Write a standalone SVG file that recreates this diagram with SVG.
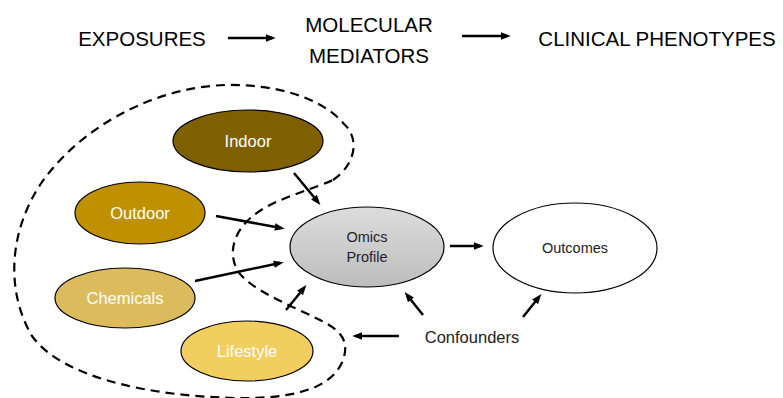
<svg xmlns="http://www.w3.org/2000/svg" width="783" height="398" viewBox="0 0 783 398">
<style>
text{font-family:"Liberation Sans",Arial,sans-serif;text-anchor:middle;dominant-baseline:central}
.hdr{font-size:20.5px;fill:#000}
.wl{font-size:16.5px;fill:#fff}
.dl{font-size:14.5px;fill:#222}
.node{stroke:#000;stroke-width:1.2}
.arr{stroke:#000;stroke-width:2.5;fill:none;marker-end:url(#ah)}
</style>
<defs>
<marker id="ah" markerWidth="4" markerHeight="4" refX="2.5" refY="2" orient="auto" markerUnits="strokeWidth" viewBox="0 0 4 4">
<path d="M0,0.5 L4,2 L0,3.5 Z" fill="#000"/>
</marker>
<linearGradient id="gOm" x1="0" y1="0" x2="0" y2="1">
<stop offset="0" stop-color="#dcdcdc"/>
<stop offset="1" stop-color="#bdbdbd"/>
</linearGradient>
</defs>
<g id="header">
<text class="hdr" x="142" y="38">EXPOSURES</text>
<text class="hdr" x="369" y="24">MOLECULAR</text>
<text class="hdr" x="369" y="55">MEDIATORS</text>
<text class="hdr" x="657" y="38">CLINICAL PHENOTYPES</text>
</g>
<g id="boundary">
<path d="M 333,180 C 355,165 360,140 345,125 C 320,95 270,84 225,85 C 160,87 85,122 42,182 C 8,232 6,292 32,336 C 62,378 150,396 235,398 C 290,399 332,390 343,360 C 350,340 340,330 320,320 C 290,305 250,290 237,270 C 225,245 240,220 270,205 C 290,195 315,188 333,180 Z" fill="none" stroke="#000" stroke-width="2.2" stroke-dasharray="9,6"/>
</g>
<g id="indoor"><ellipse class="node" cx="248" cy="141" rx="75" ry="31" fill="#7f6000"/><text class="wl" x="248" y="141">Indoor</text></g>
<g id="outdoor"><ellipse class="node" cx="140" cy="213" rx="65" ry="31" fill="#bf9000"/><text class="wl" x="140" y="213">Outdoor</text></g>
<g id="chemicals"><ellipse class="node" cx="125" cy="298" rx="70" ry="30" fill="#dbbb5c"/><text class="wl" x="125" y="298">Chemicals</text></g>
<g id="lifestyle"><ellipse class="node" cx="247" cy="351" rx="66" ry="30" fill="#f2cd60"/><text class="wl" x="247" y="351">Lifestyle</text></g>
<g id="omics"><ellipse class="node" cx="367" cy="247" rx="77" ry="40" fill="url(#gOm)"/><text class="dl" x="367" y="237">Omics</text><text class="dl" x="367" y="257">Profile</text></g>
<g id="outcomes"><ellipse class="node" cx="575" cy="248" rx="82" ry="45" fill="#fff"/><text class="dl" x="575" y="248">Outcomes</text></g>
<g id="confounders"><text class="dl" style="font-size:16.5px" x="472" y="337">Confounders</text></g>
<g id="connectors">
<line class="arr" x1="228" y1="38" x2="272" y2="38"/>
<line class="arr" x1="462" y1="36" x2="507" y2="36"/>
<line class="arr" x1="294" y1="173" x2="318" y2="202"/>
<line class="arr" x1="216" y1="216" x2="281" y2="228"/>
<line class="arr" x1="195" y1="281" x2="280" y2="263"/>
<line class="arr" x1="286" y1="310" x2="304" y2="288"/>
<line class="arr" x1="450" y1="246" x2="480" y2="246"/>
<line class="arr" x1="423" y1="315" x2="407" y2="295"/>
<line class="arr" x1="523" y1="317" x2="539" y2="297"/>
<line class="arr" x1="399" y1="336" x2="356" y2="336"/>
</g>
</svg>
